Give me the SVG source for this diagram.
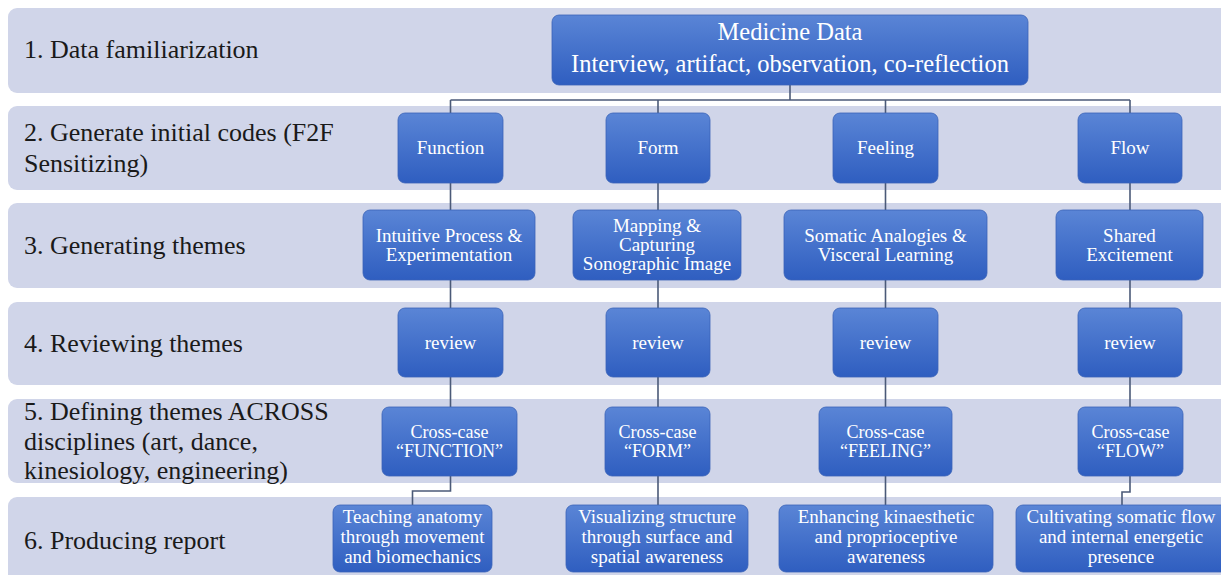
<svg xmlns="http://www.w3.org/2000/svg" width="1221" height="575" viewBox="0 0 1221 575">
  <defs>
    <linearGradient id="nodeFill" x1="0" y1="0" x2="0" y2="1">
      <stop offset="0" stop-color="#5a85d6"/>
      <stop offset="1" stop-color="#2f5ec0"/>
    </linearGradient>
    <style>
      .band { fill: #d0d5e9; }
      .stage { font-family: "Liberation Serif", "DejaVu Serif", "Times New Roman", serif; font-size: 26px; fill: #1a1a1a; }
      .node rect { fill: url(#nodeFill); stroke: #3a63b8; stroke-width: 0.8; }
      .node text { font-family: "Liberation Serif", "DejaVu Serif", "Times New Roman", serif; font-size: 19px; fill: #ffffff; text-anchor: middle; }
      .node text.big { font-size: 24.5px; }
      .node text.small { font-size: 18px; }
      .conn { fill: none; stroke: #4b5a78; stroke-width: 1.6; }
    </style>
  </defs>

  <rect width="1221" height="575" fill="#ffffff"/>

  <!-- stage bands -->
  <g id="bands">
    <rect class="band" x="8" y="8" width="1230" height="85" rx="9"/>
    <rect class="band" x="8" y="106" width="1230" height="84" rx="9"/>
    <rect class="band" x="8" y="203" width="1230" height="85" rx="9"/>
    <rect class="band" x="8" y="302" width="1230" height="83" rx="9"/>
    <rect class="band" x="8" y="399" width="1230" height="84" rx="9"/>
    <rect class="band" x="8" y="497" width="1230" height="90" rx="9"/>
  </g>

  <!-- stage labels -->
  <g id="stage-labels">
    <text class="stage" x="24" y="58">1. Data familiarization</text>
    <text class="stage" x="24" y="141">2. Generate initial codes (F2F</text>
    <text class="stage" x="24" y="172">Sensitizing)</text>
    <text class="stage" x="24" y="254">3. Generating themes</text>
    <text class="stage" x="24" y="352">4. Reviewing themes</text>
    <text class="stage" x="24" y="420">5. Defining themes ACROSS</text>
    <text class="stage" x="24" y="449.5">disciplines (art, dance,</text>
    <text class="stage" x="24" y="479">kinesiology, engineering)</text>
    <text class="stage" x="24" y="549">6. Producing report</text>
  </g>

  <!-- connectors -->
  <g id="connectors">
    <path class="conn" d="M790 85 V100 M450.5 100 H1130 M450.5 100 V113 M658 100 V113 M885.5 100 V113 M1130 100 V113"/>
    <path class="conn" d="M450.5 183 V210 M658 183 V210 M885.5 183 V210 M1130 183 V210"/>
    <path class="conn" d="M450.5 280 V308 M658 280 V308 M885.5 280 V308 M1130 280 V308"/>
    <path class="conn" d="M450.5 377 V407 M658 377 V407 M885.5 377 V407 M1130 377 V407"/>
    <path class="conn" d="M450.5 476 V491 H412.5 V505 M658 476 V505 M885.5 476 V505 M1130 476 V492 H1122 V505"/>
  </g>

  <!-- data source -->
  <g id="medicine-data" class="node">
    <rect x="552" y="15" width="476" height="70" rx="7"/>
    <text class="big" x="790" y="40">Medicine Data</text>
    <text class="big" x="790" y="72">Interview, artifact, observation, co-reflection</text>
  </g>

  <!-- initial codes -->
  <g id="function" class="node">
    <rect x="398" y="113" width="105" height="70" rx="7"/>
    <text x="450.5" y="154">Function</text>
  </g>
  <g id="form" class="node">
    <rect x="606" y="113" width="104" height="70" rx="7"/>
    <text x="658" y="154">Form</text>
  </g>
  <g id="feeling" class="node">
    <rect x="833" y="113" width="105" height="70" rx="7"/>
    <text x="885.5" y="154">Feeling</text>
  </g>
  <g id="flow" class="node">
    <rect x="1078" y="113" width="104" height="70" rx="7"/>
    <text x="1130" y="154">Flow</text>
  </g>

  <!-- themes -->
  <g id="theme-function" class="node">
    <rect x="363" y="210" width="172" height="70" rx="7"/>
    <text x="449" y="242">Intuitive Process &amp;</text>
    <text x="449" y="261">Experimentation</text>
  </g>
  <g id="theme-form" class="node">
    <rect x="573" y="210" width="168" height="70" rx="7"/>
    <text x="657" y="232">Mapping &amp;</text>
    <text x="657" y="251">Capturing</text>
    <text x="657" y="270">Sonographic Image</text>
  </g>
  <g id="theme-feeling" class="node">
    <rect x="784" y="210" width="203" height="70" rx="7"/>
    <text x="885.5" y="242">Somatic Analogies &amp;</text>
    <text x="885.5" y="261">Visceral Learning</text>
  </g>
  <g id="theme-flow" class="node">
    <rect x="1056" y="210" width="147" height="70" rx="7"/>
    <text x="1129.5" y="242">Shared</text>
    <text x="1129.5" y="261">Excitement</text>
  </g>

  <!-- reviews -->
  <g id="review-function" class="node">
    <rect x="398" y="308" width="105" height="69" rx="7"/>
    <text x="450.5" y="349">review</text>
  </g>
  <g id="review-form" class="node">
    <rect x="606" y="308" width="104" height="69" rx="7"/>
    <text x="658" y="349">review</text>
  </g>
  <g id="review-feeling" class="node">
    <rect x="833" y="308" width="105" height="69" rx="7"/>
    <text x="885.5" y="349">review</text>
  </g>
  <g id="review-flow" class="node">
    <rect x="1078" y="308" width="104" height="69" rx="7"/>
    <text x="1130" y="349">review</text>
  </g>

  <!-- cross-case themes -->
  <g id="cross-function" class="node">
    <rect x="382" y="407" width="135" height="69" rx="7"/>
    <text class="small" x="449.5" y="438">Cross-case</text>
    <text class="small" x="449.5" y="457">“FUNCTION”</text>
  </g>
  <g id="cross-form" class="node">
    <rect x="605" y="407" width="105" height="69" rx="7"/>
    <text class="small" x="657.5" y="438">Cross-case</text>
    <text class="small" x="657.5" y="457">“FORM”</text>
  </g>
  <g id="cross-feeling" class="node">
    <rect x="819" y="407" width="133" height="69" rx="7"/>
    <text class="small" x="885.5" y="438">Cross-case</text>
    <text class="small" x="885.5" y="457">“FEELING”</text>
  </g>
  <g id="cross-flow" class="node">
    <rect x="1078" y="407" width="105" height="69" rx="7"/>
    <text class="small" x="1130.5" y="438">Cross-case</text>
    <text class="small" x="1130.5" y="457">“FLOW”</text>
  </g>

  <!-- report outcomes -->
  <g id="report-function" class="node">
    <rect x="333" y="505" width="159" height="67" rx="7"/>
    <text x="412.5" y="523">Teaching anatomy</text>
    <text x="412.5" y="543">through movement</text>
    <text x="412.5" y="563">and biomechanics</text>
  </g>
  <g id="report-form" class="node">
    <rect x="566" y="505" width="182" height="67" rx="7"/>
    <text x="657" y="523">Visualizing structure</text>
    <text x="657" y="543">through surface and</text>
    <text x="657" y="563">spatial awareness</text>
  </g>
  <g id="report-feeling" class="node">
    <rect x="779" y="505" width="214" height="67" rx="7"/>
    <text x="886" y="523">Enhancing kinaesthetic</text>
    <text x="886" y="543">and proprioceptive</text>
    <text x="886" y="563">awareness</text>
  </g>
  <g id="report-flow" class="node">
    <rect x="1016" y="505" width="212" height="67" rx="7"/>
    <text x="1121" y="523">Cultivating somatic flow</text>
    <text x="1121" y="543">and internal energetic</text>
    <text x="1121" y="563">presence</text>
  </g>
</svg>
